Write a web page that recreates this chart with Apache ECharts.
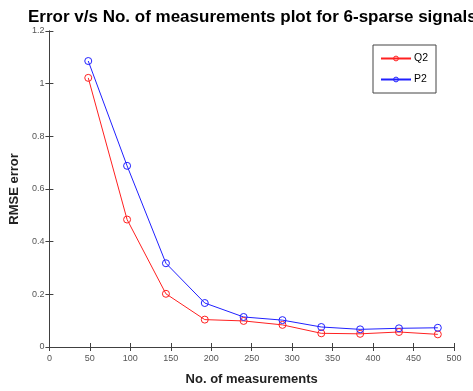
<!DOCTYPE html>
<html>
<head>
<meta charset="utf-8">
<script src="https://cdn.jsdelivr.net/npm/echarts@6/dist/echarts.min.js"></script>
<style>
  html, body { margin: 0; padding: 0; background: #fff; }
  #chart { width: 473px; height: 391px; }
</style>
</head>
<body>
<div id="chart"></div>
<script>
const measurements = [48, 96, 144, 192, 240, 288, 336, 384, 432, 480];
const q2Error = [1.022, 0.484, 0.202, 0.104, 0.099, 0.084, 0.052, 0.050, 0.057, 0.048];
const p2Error = [1.086, 0.688, 0.318, 0.167, 0.114, 0.102, 0.076, 0.067, 0.071, 0.073];
const seriesNames = ["Q2", "P2"];
const seriesColors = ["#ff2020", "#2020ff"];

const chart = echarts.init(document.getElementById("chart"));

const tickColor = "#404040";
const labelFont = { color: "#555", fontSize: 9, fontFamily: "Liberation Sans" };

const toPairs = (vals) => vals.map((v, i) => [measurements[i], v]);

const option = {
  animation: false,
  title: {
    text: "Error v/s No. of measurements plot for 6-sparse signals",
    left: 23,
    top: 4,
    textStyle: { fontSize: 17, fontWeight: "bold", color: "#000", fontFamily: "Liberation Sans" },
  },
  legend: {
    orient: "vertical",
    left: 373,
    top: 45,
    width: 62,
    padding: [8, 8, 8, 7],
    itemGap: 10,
    itemWidth: 30,
    itemHeight: 6,
    borderColor: "#444",
    borderWidth: 1,
    textStyle: { fontSize: 10.5, color: "#000", fontFamily: "Liberation Sans", padding: [0, 0, 0, -2] },
    data: seriesNames.map((name, i) => ({
      name,
      itemStyle: { color: "rgba(255,255,255,0)", borderColor: seriesColors[i], borderWidth: 1 },
    })),
  },
  grid: { left: 44, right: 19, top: 31, bottom: 38 },
  xAxis: [
    {
      type: "value",
      min: 0,
      max: 500,
      interval: 50,
      name: "No. of measurements",
      nameLocation: "middle",
      nameGap: 26,
      nameTextStyle: { fontSize: 13, fontWeight: "bold", color: "#222", fontFamily: "Liberation Sans" },
      axisLine: { lineStyle: { color: tickColor, width: 1 } },
      axisTick: { inside: true, length: 4, lineStyle: { color: tickColor } },
      axisLabel: { ...labelFont, margin: 7 },
      splitLine: { show: false },
    },
    {
      type: "value",
      position: "top",
      min: 0,
      max: 500,
      interval: 50,
      axisLine: { show: true, lineStyle: { color: tickColor, width: 1 } },
      axisTick: { show: true, inside: true, length: 4, lineStyle: { color: tickColor } },
      axisLabel: { show: false },
      splitLine: { show: false },
    },
  ],
  yAxis: [
    {
      type: "value",
      min: 0,
      max: 1.2,
      interval: 0.2,
      name: "RMSE error",
      nameLocation: "middle",
      nameGap: 19,
      nameTextStyle: { fontSize: 13, fontWeight: "bold", color: "#222", fontFamily: "Liberation Sans" },
      axisLine: { show: true, lineStyle: { color: tickColor, width: 1 } },
      axisTick: { show: true, inside: true, length: 4, lineStyle: { color: tickColor } },
      axisLabel: {
        ...labelFont,
        margin: 5,
        formatter: (v) => String(Math.round(v * 10) / 10),
      },
      splitLine: { show: false },
    },
    {
      type: "value",
      position: "right",
      min: 0,
      max: 1.2,
      interval: 0.2,
      axisLine: { show: true, lineStyle: { color: tickColor, width: 1 } },
      axisTick: { show: true, inside: true, length: 4, lineStyle: { color: tickColor } },
      axisLabel: { show: false },
      splitLine: { show: false },
    },
  ],
  series: [q2Error, p2Error].map((vals, i) => ({
    name: seriesNames[i],
    type: "line",
    data: toPairs(vals),
    symbol: "circle",
    symbolSize: 7,
    color: seriesColors[i],
    lineStyle: { width: 1, color: seriesColors[i] },
    itemStyle: { color: "rgba(255,255,255,0)", borderColor: seriesColors[i], borderWidth: 1 },
  })),
};

chart.setOption(option);
</script>
</body>
</html>
